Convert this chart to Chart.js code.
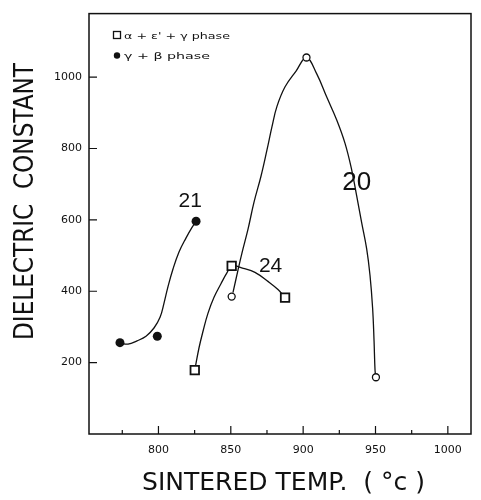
<!DOCTYPE html>
<html>
<head>
<meta charset="utf-8">
<script src="https://cdn.jsdelivr.net/npm/chart.js@4.4.1/dist/chart.umd.min.js"></script>
<style>
  html, body { margin: 0; padding: 0; background: #fff; }
  #wrap { width: 481px; height: 500px; }
</style>
</head>
<body>
<div id="wrap"><canvas id="chart" width="481" height="500"></canvas></div>
<script>
// measured points (sintered temp in °C, dielectric constant)
const temps20 = [850.6, 902.3, 950.3];
const eps20 = [385, 1055, 159];
const temps21 = [773.4, 799.2, 826];
const eps21 = [256, 274, 596];
const temps24 = [825.1, 850.6, 887.5];
const eps24 = [179, 471, 382];

// hand drawn fit curves
const curve20T = [851.5, 855, 857.7, 861.9, 866, 870.9, 875, 878.5, 881.9, 887.5, 895.1, 902.3,
                  909.4, 916.3, 923.2, 928.9, 933.5, 937, 940.4, 943.9, 946.2, 948, 949, 949.7, 950.3];
const curve20E = [396, 460, 507, 574, 649, 723, 796, 862, 918, 973, 1017, 1055,
                  1009, 944, 880, 815, 741, 667, 593, 519, 445, 353, 261, 177, 159];
const curve21T = [773.4, 779, 785.2, 791.4, 796.9, 801.1, 803.8, 806.6, 810.1, 814.2, 819, 823.2, 826];
const curve21E = [255, 252, 261, 274, 297, 327, 366, 413, 463, 510, 549, 579, 596];
const curve24T = [825.1, 828, 830.8, 834.2, 838.4, 843.2, 847.4, 850.8, 858.6, 866.7, 875.9, 882.8, 887.5];
const curve24E = [179, 241, 288, 338, 383, 421, 452, 471, 464, 453, 427, 404, 382];

// curve numbers and where they sit
const curveNames = ['21', '24', '20'];
const nameT = [822, 877.5, 937];
const nameE = [652, 469, 704];
const nameSize = [21, 21, 26];

const legendText = ["α + ε' + γ phase", 'γ + β phase'];

const xTicks = [800, 850, 900, 950, 1000];
const xMinor = [775, 825, 875, 925, 975];
const yTicks = [200, 400, 600, 800, 1000];

const pts = (xs, ys) => xs.map((v, i) => ({ x: v, y: ys[i] }));

function fitText(ctx, text, x, y, width, rot, align) {
    ctx.save();
    ctx.translate(x, y);
    ctx.rotate(rot);
    const w = ctx.measureText(text).width;
    ctx.scale(width / w, 1);
    ctx.textAlign = align || 'center';
    ctx.textBaseline = 'alphabetic';
    ctx.fillText(text, 0, 0);
    ctx.restore();
}

const paperPlugin = {
    id: 'paper',
    afterDraw(chart) {
        const { ctx, chartArea: a, scales: { x, y } } = chart;
        ctx.save();
        ctx.strokeStyle = '#111';
        ctx.fillStyle = '#111';

        // frame
        ctx.lineWidth = 1.5;
        ctx.strokeRect(a.left, a.top, a.right - a.left, a.bottom - a.top);

        // inward ticks
        ctx.lineWidth = 1.2;
        ctx.beginPath();
        xTicks.concat(xMinor).forEach(v => {
            const px = x.getPixelForValue(v);
            const len = xTicks.includes(v) ? 8 : 4;
            ctx.moveTo(px, a.bottom);
            ctx.lineTo(px, a.bottom - len);
        });
        yTicks.forEach(v => {
            const py = y.getPixelForValue(v);
            ctx.moveTo(a.left, py);
            ctx.lineTo(a.left + 8, py);
        });
        ctx.stroke();

        // curve numbers
        curveNames.forEach((s, i) => {
            ctx.font = nameSize[i] + 'px "Liberation Sans"';
            ctx.textAlign = 'center';
            ctx.textBaseline = 'middle';
            ctx.fillText(s, x.getPixelForValue(nameT[i]), y.getPixelForValue(nameE[i]));
        });

        // legend
        const lx = a.left + 28;
        ctx.lineWidth = 1.3;
        ctx.strokeRect(lx - 3.5, 31.5, 7, 7);
        ctx.beginPath();
        ctx.arc(lx, 55.5, 3.2, 0, Math.PI * 2);
        ctx.fill();
        ctx.font = '9px "DejaVu Sans"';
        fitText(ctx, legendText[0], lx + 7, 38.5, 106, 0, 'left');
        fitText(ctx, legendText[1], lx + 7, 59, 86, 0, 'left');

        // axis titles
        ctx.font = '27px "DejaVu Sans"';
        fitText(ctx, 'DIELECTRIC  CONSTANT', 33, 201.5, 277, -Math.PI / 2);
        ctx.font = '24px "DejaVu Sans"';
        fitText(ctx, 'SINTERED TEMP.  ( °c )', 283.5, 490, 283, 0);
        ctx.restore();
    }
};

const curveStyle = {
    showLine: true,
    pointRadius: 0,
    borderColor: '#111',
    borderWidth: 1.3,
    tension: 0.4,
    order: 2
};

new Chart(document.getElementById('chart'), {
    type: 'scatter',
    data: {
        datasets: [
            {
                label: '20',
                data: pts(temps20, eps20),
                pointStyle: 'circle',
                pointRadius: 3.5,
                borderWidth: 1.3,
                borderColor: '#111',
                backgroundColor: '#fff',
                order: 0
            },
            {
                label: '21',
                data: pts(temps21, eps21),
                pointStyle: 'circle',
                pointRadius: 4.5,
                borderWidth: 0,
                backgroundColor: '#111',
                order: 0
            },
            {
                label: '24',
                data: pts(temps24, eps24),
                pointStyle: 'rect',
                pointRadius: 6,
                borderWidth: 1.8,
                borderColor: '#111',
                backgroundColor: '#fff',
                order: 0
            },
            Object.assign({ label: 'fit 20', data: pts(curve20T, curve20E) }, curveStyle),
            Object.assign({ label: 'fit 21', data: pts(curve21T, curve21E) }, curveStyle),
            Object.assign({ label: 'fit 24', data: pts(curve24T, curve24E) }, curveStyle)
        ]
    },
    options: {
        responsive: false,
        animation: false,
        layout: { padding: { top: 9, right: 10, left: 0, bottom: 0 } },
        plugins: {
            legend: { display: false },
            tooltip: { enabled: false }
        },
        scales: {
            x: {
                type: 'linear',
                min: 752,
                max: 1016,
                grid: { display: false, drawTicks: false },
                border: { display: false },
                ticks: {
                    padding: 10,
                    maxRotation: 0,
                    autoSkip: false,
                    color: '#111',
                    font: { family: 'DejaVu Sans', size: 11 },
                    callback: v => String(v)
                },
                afterBuildTicks: axis => { axis.ticks = xTicks.map(v => ({ value: v })); },
                afterFit: axis => { axis.height = 66; }
            },
            y: {
                type: 'linear',
                min: 0,
                max: 1178,
                grid: { display: false, drawTicks: false },
                border: { display: false },
                ticks: {
                    padding: 7,
                    autoSkip: false,
                    color: '#111',
                    font: { family: 'DejaVu Sans', size: 11 },
                    callback: v => String(v)
                },
                afterBuildTicks: axis => { axis.ticks = yTicks.map(v => ({ value: v })); },
                afterFit: axis => { axis.width = 89; }
            }
        }
    },
    plugins: [paperPlugin]
});
</script>
</body>
</html>
